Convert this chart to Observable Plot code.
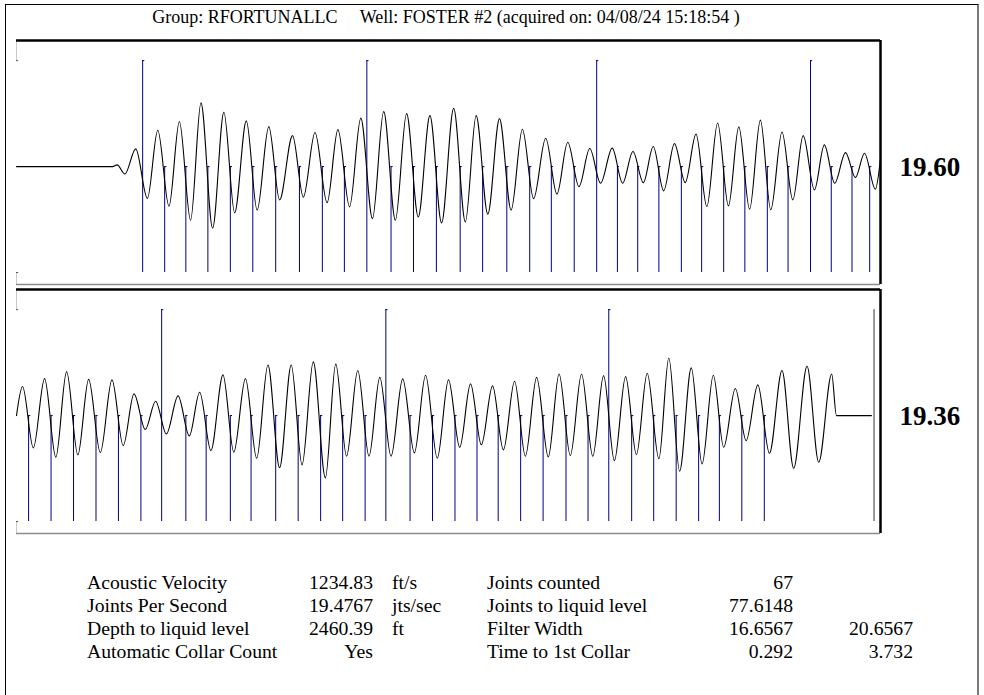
<!DOCTYPE html>
<html><head><meta charset="utf-8">
<script src="https://cdn.jsdelivr.net/npm/d3@7"></script>
<script src="https://cdn.jsdelivr.net/npm/@observablehq/plot@0.6"></script>
<style>
body{margin:0;background:#fff;}
#root{position:relative;width:984px;height:695px;overflow:hidden;font-family:"Liberation Serif","Times New Roman",serif;color:#000;background:#fff;}
#frame{position:absolute;left:4.5px;top:4px;width:971px;height:720px;border-left:1.5px solid #000;border-top:1.5px solid #000;border-right:2px solid #7a7a7a;}
#title{position:absolute;top:5px;left:0;width:892px;text-align:center;font-size:18px;white-space:pre;line-height:24px;}
.panel{position:absolute;left:0;}
.t{position:absolute;font-size:19.7px;line-height:23px;white-space:nowrap;}
.r{text-align:right;}
</style></head><body><div id="root"><div id="frame"></div><div id="title"></div></div>
<script>
// ---- header ----
const titleText = "Group: RFORTUNALLC     Well: FOSTER #2 (acquired on: 04/08/24 15:18:54 )";

// ---- panels (time in seconds) ----
const topRange = [0, 2];
const bottomRange = [2, 4];
const panelLabels = ["19.60", "19.36"];

// waveform extrema (time s, relative amplitude)
const topWaveT = [0, 0.222, 0.233, 0.251, 0.276, 0.303, 0.327, 0.353, 0.377, 0.403, 0.427, 0.454, 0.480, 0.505, 0.532, 0.557, 0.584, 0.609, 0.639, 0.664, 0.691, 0.719, 0.744, 0.771, 0.797, 0.824, 0.850, 0.877, 0.903, 0.930, 0.957, 0.984, 1.012, 1.039, 1.064, 1.091, 1.118, 1.145, 1.171, 1.197, 1.225, 1.251, 1.276, 1.302, 1.327, 1.352, 1.379, 1.403, 1.427, 1.451, 1.474, 1.498, 1.523, 1.548, 1.573, 1.598, 1.623, 1.648, 1.672, 1.697, 1.722, 1.746, 1.772, 1.797, 1.821, 1.847, 1.870, 1.894, 1.919, 1.942, 1.963, 1.988, 2.0];
const topWaveV = [0, 0, 0.016, -0.07, 0.167, -0.30, 0.343, -0.374, 0.425, -0.506, 0.601, -0.581, 0.513, -0.437, 0.431, -0.411, 0.377, -0.314, 0.292, -0.289, 0.321, -0.340, 0.349, -0.380, 0.457, -0.491, 0.519, -0.506, 0.500, -0.475, 0.481, -0.531, 0.551, -0.522, 0.481, -0.449, 0.453, -0.411, 0.353, -0.302, 0.268, -0.260, 0.230, -0.189, 0.170, -0.157, 0.174, -0.157, 0.142, -0.151, 0.189, -0.229, 0.217, -0.151, 0.306, -0.377, 0.412, -0.371, 0.375, -0.402, 0.438, -0.408, 0.327, -0.314, 0.292, -0.220, 0.205, -0.157, 0.132, -0.104, 0.126, -0.213, 0.073];

const bottomWaveT = [2.000, 2.014, 2.039, 2.065, 2.091, 2.116, 2.142, 2.167, 2.194, 2.221, 2.247, 2.272, 2.298, 2.322, 2.347, 2.374, 2.400, 2.424, 2.450, 2.478, 2.503, 2.530, 2.556, 2.582, 2.609, 2.636, 2.661, 2.687, 2.715, 2.739, 2.764, 2.790, 2.816, 2.841, 2.867, 2.894, 2.921, 2.947, 2.974, 3.000, 3.026, 3.051, 3.076, 3.102, 3.127, 3.153, 3.178, 3.204, 3.231, 3.256, 3.282, 3.308, 3.334, 3.359, 3.384, 3.410, 3.435, 3.460, 3.487, 3.510, 3.535, 3.562, 3.587, 3.613, 3.637, 3.664, 3.689, 3.716, 3.743, 3.772, 3.799, 3.830, 3.857, 3.887, 3.898, 3.979];
const bottomWaveV = [0, 0.274, -0.305, 0.349, -0.393, 0.415, -0.371, 0.342, -0.349, 0.337, -0.283, 0.205, -0.132, 0.135, -0.173, 0.186, -0.192, 0.220, -0.330, 0.384, -0.346, 0.349, -0.403, 0.478, -0.493, 0.478, -0.465, 0.507, -0.588, 0.488, -0.384, 0.425, -0.384, 0.361, -0.384, 0.346, -0.352, 0.380, -0.403, 0.337, -0.299, 0.299, -0.276, 0.280, -0.324, 0.324, -0.384, 0.361, -0.390, 0.393, -0.377, 0.393, -0.384, 0.377, -0.425, 0.368, -0.368, 0.399, -0.408, 0.544, -0.525, 0.450, -0.456, 0.380, -0.299, 0.255, -0.236, 0.290, -0.356, 0.425, -0.497, 0.465, -0.441, 0.393, 0, 0];

// collar (joint) times, s
const topCollarT = [0.292, 0.343, 0.392, 0.443, 0.495, 0.547, 0.600, 0.655, 0.708, 0.759, 0.811, 0.867, 0.919, 0.972, 1.027, 1.079, 1.135, 1.188, 1.238, 1.291, 1.343, 1.391, 1.438, 1.487, 1.539, 1.586, 1.637, 1.686, 1.738, 1.786, 1.838, 1.886, 1.934, 1.975];
const bottomCollarT = [2.028, 2.080, 2.132, 2.184, 2.236, 2.288, 2.336, 2.392, 2.439, 2.495, 2.543, 2.600, 2.652, 2.704, 2.755, 2.807, 2.855, 2.911, 2.963, 3.015, 3.066, 3.115, 3.167, 3.219, 3.272, 3.323, 3.371, 3.424, 3.475, 3.527, 3.579, 3.627, 3.679, 3.731];
const liquidLevelT = [3.985];

// ---- stats table ----
const statLabels1 = ["Acoustic Velocity", "Joints Per Second", "Depth to liquid level", "Automatic Collar Count"];
const statValues1 = ["1234.83", "19.4767", "2460.39", "Yes"];
const statUnits1 = ["ft/s", "jts/sec", "ft", ""];
const statLabels2 = ["Joints counted", "Joints to liquid level", "Filter Width", "Time to 1st Collar"];
const statValues2 = ["67", "77.6148", "16.6567", "0.292"];
const statValues3 = ["", "", "20.6567", "3.732"];

const root = document.getElementById("root");
document.getElementById("title").textContent = titleText;

const allCollars = topCollarT.concat(bottomCollarT).map((t, i) => ({t, joint: i + 1, tall: i % 10 === 0}));
const yTop = 1.19, yBottom = -1.113, markTop = 1, markBottom = -1;
const serif = "Liberation Serif, Times New Roman, serif";

function panel(range, waveT, waveV, label, extraRules) {
  const wave = waveT.map((t, i) => ({t, v: waveV[i]}));
  const collars = allCollars.filter(d => d.t >= range[0] && d.t < range[1]);
  const capLen = 0.005;
  return Plot.plot({
    width: 984, height: 251,
    marginLeft: 16, marginRight: 104, marginTop: 4, marginBottom: 3,
    x: {domain: range, axis: null},
    y: {domain: [yBottom, yTop], axis: null},
    style: {background: "transparent", overflow: "visible"},
    marks: [
      Plot.ruleX([range[0]], {y1: yTop, y2: markTop, stroke: "#c8c8c8"}),
      Plot.ruleX([range[0]], {y1: markBottom, y2: yBottom, stroke: "#c8c8c8"}),
      Plot.ruleY([markTop, markBottom], {x1: range[0], x2: range[0] + capLen, stroke: "#555"}),
      Plot.ruleX(collars, {x: "t", y1: d => d.tall ? markTop : 0, y2: markBottom, stroke: "#000080", strokeWidth: 1}),
      Plot.ruleY(collars, {y: d => d.tall ? markTop : 0, x1: "t", x2: d => d.t + capLen, stroke: "#000080", strokeWidth: 1}),
      Plot.ruleX(extraRules, {y1: markTop, y2: markBottom, stroke: "#333", strokeWidth: 1}),
      Plot.line(wave, {x: "t", y: "v", curve: "monotone-x", stroke: "#000", strokeWidth: 1.1}),
      Plot.ruleY([yBottom], {stroke: "#8c8c8c", strokeWidth: 1.3}),
      Plot.ruleY([yTop], {stroke: "#000", strokeWidth: 2.5}),
      Plot.ruleX([range[1]], {stroke: "#000", strokeWidth: 2.5}),
      Plot.text([label], {x: range[1], y: 0, text: d => d, dx: 19, dy: 1, textAnchor: "start", fontSize: 27, fontWeight: "bold", fontFamily: serif, fill: "#000"})
    ]
  });
}

const p1 = panel(topRange, topWaveT, topWaveV, panelLabels[0], []);
p1.classList.add("panel"); p1.style.top = "36px";
root.appendChild(p1);
const p2 = panel(bottomRange, bottomWaveT, bottomWaveV, panelLabels[1], liquidLevelT);
p2.classList.add("panel"); p2.style.top = "285px";
root.appendChild(p2);

// table
function addText(txt, x, y, right) {
  const d = document.createElement("div");
  d.className = "t" + (right ? " r" : "");
  d.textContent = txt;
  d.style.top = y + "px";
  if (right) { d.style.left = (x - 200) + "px"; d.style.width = "200px"; }
  else d.style.left = x + "px";
  root.appendChild(d);
}
statLabels1.forEach((s, i) => {
  const y = 571 + i * 23;
  addText(s, 87, y, false);
  addText(statValues1[i], 373, y, true);
  addText(statUnits1[i], 392, y, false);
  addText(statLabels2[i], 487, y, false);
  addText(statValues2[i], 793, y, true);
  addText(statValues3[i], 913, y, true);
});
</script></body></html>
